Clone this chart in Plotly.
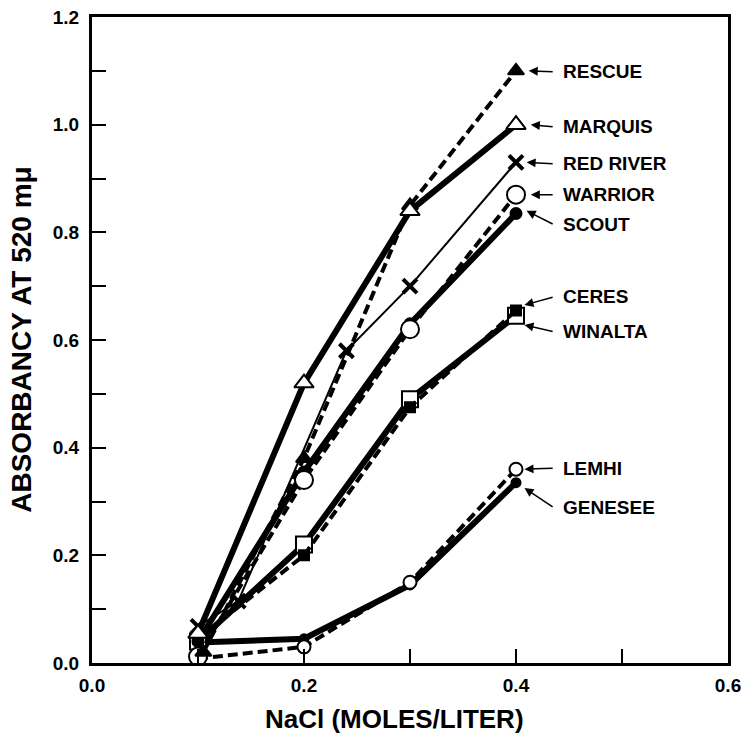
import plotly.graph_objects as go

# -- values -------------------------------------------------------------------
rescue_x = [0.105, 0.2, 0.3, 0.4]
rescue_y = [0.02, 0.38, 0.85, 1.10]

marquis_x = [0.1, 0.2, 0.3, 0.4]
marquis_y = [0.055, 0.52, 0.84, 1.00]

redriver_x = [0.1, 0.138, 0.24, 0.3, 0.4]
redriver_y = [0.068, 0.115, 0.58, 0.70, 0.93]

warrior_x = [0.1, 0.2, 0.3, 0.4]
warrior_y = [0.012, 0.34, 0.62, 0.87]

scout_x = [0.1, 0.2, 0.3, 0.4]
scout_y = [0.04, 0.355, 0.63, 0.835]

ceres_x = [0.1, 0.2, 0.3, 0.4]
ceres_y = [0.045, 0.20, 0.475, 0.655]

winalta_x = [0.1, 0.2, 0.3, 0.4]
winalta_y = [0.04, 0.22, 0.49, 0.645]

lemhi_x = [0.1, 0.2, 0.3, 0.4]
lemhi_y = [0.008, 0.03, 0.15, 0.36]

genesee_x = [0.1, 0.2, 0.3, 0.4]
genesee_y = [0.038, 0.045, 0.145, 0.335]

# label text, label height, arrow target (x, y)
labels = ["RESCUE", "MARQUIS", "RED RIVER", "WARRIOR", "SCOUT",
          "CERES", "WINALTA", "LEMHI", "GENESEE"]
label_y = [1.098, 0.996, 0.927, 0.870, 0.814, 0.680, 0.615, 0.362, 0.288]
arrow_to_x = [0.412, 0.414, 0.410, 0.414, 0.410, 0.408, 0.408, 0.408, 0.408]
arrow_to_y = [1.10, 1.00, 0.93, 0.87, 0.84, 0.665, 0.628, 0.36, 0.325]
label_x = 0.442

FONT = "Liberation Sans"
DASH = "10px,5px"

fig = go.Figure()


def add_series(x, y, name, symbol, size, fill, dash, width, mwidth=2):
    fig.add_trace(go.Scatter(
        x=x, y=y, name=name, mode="lines+markers",
        line=dict(color="black", width=width, dash=dash),
        marker=dict(symbol=symbol, size=size, color=fill,
                    line=dict(color="black", width=mwidth)),
    ))


add_series(genesee_x, genesee_y, "GENESEE", "circle", 9, "black", "solid", 6)
add_series(lemhi_x, lemhi_y, "LEMHI", "circle", 13, "white", DASH, 4)
add_series(winalta_x, winalta_y, "WINALTA", "square", 16, "white", "solid", 6)
add_series(ceres_x, ceres_y, "CERES", "square", 10, "black", DASH, 4)
add_series(scout_x, scout_y, "SCOUT", "circle", 11, "black", "solid", 6)
add_series(warrior_x, warrior_y, "WARRIOR", "circle", 18, "white", DASH, 4)
add_series(redriver_x, redriver_y, "RED RIVER", "x-thin", 14, "black", "solid", 2, 4)
add_series(rescue_x, rescue_y, "RESCUE", "triangle-up", 14, "black", DASH, 4)
add_series(marquis_x, marquis_y, "MARQUIS", "triangle-up", 17, "white", "solid", 6)

for txt, ly, tx, ty in zip(labels, label_y, arrow_to_x, arrow_to_y):
    fig.add_annotation(
        x=label_x, y=ly, text=f"<b>{txt}</b>", showarrow=False,
        xanchor="left", yanchor="middle",
        font=dict(family=FONT, size=19, color="black"),
    )
    fig.add_annotation(
        x=tx, y=ty, ax=label_x - 0.006, ay=ly, axref="x", ayref="y",
        text="", showarrow=True, arrowhead=2, arrowsize=1.2,
        arrowwidth=1.5, arrowcolor="black",
    )

# axis titles placed in paper coordinates
fig.add_annotation(
    xref="paper", yref="paper", x=-0.112, y=0.5, textangle=-90,
    text="<b>ABSORBANCY AT 520 m\u03bc</b>", showarrow=False,
    xanchor="center", yanchor="middle",
    font=dict(family=FONT, size=28, color="black"),
)
fig.add_annotation(
    xref="paper", yref="paper", x=0.476, y=-0.087,
    text="<b>NaCl (MOLES/LITER)</b>", showarrow=False,
    xanchor="center", yanchor="middle",
    font=dict(family=FONT, size=26, color="black"),
)

axis_common = dict(
    showgrid=False, zeroline=False, showline=True, linecolor="black",
    linewidth=3, mirror=True, ticks="inside", ticklen=14, tickwidth=2,
    tickcolor="black", tickformat=".1f", automargin=False,
    ticklabeloverflow="allow",
    tickfont=dict(family=FONT, size=19, color="black", weight="bold"),
)

fig.update_xaxes(
    range=[0, 0.6], dtick=0.2, ticklabelstandoff=3,
    minor=dict(dtick=0.1, ticks="inside", ticklen=14, tickwidth=2, tickcolor="black"),
    **axis_common,
)
fig.update_yaxes(
    range=[0, 1.2], dtick=0.2, ticklabelstandoff=6,
    minor=dict(dtick=0.1, ticks="inside", ticklen=14, tickwidth=2, tickcolor="black"),
    **axis_common,
)

fig.update_layout(
    width=746, height=736,
    margin=dict(l=92, r=18, t=17, b=73),
    paper_bgcolor="white", plot_bgcolor="white",
    showlegend=False,
)

# drop the page's default body margin so the figure fills the window exactly
fig.write_html(
    "out.html",
    config={"displayModeBar": False},
    post_script="document.body.style.margin = '0';",
)
